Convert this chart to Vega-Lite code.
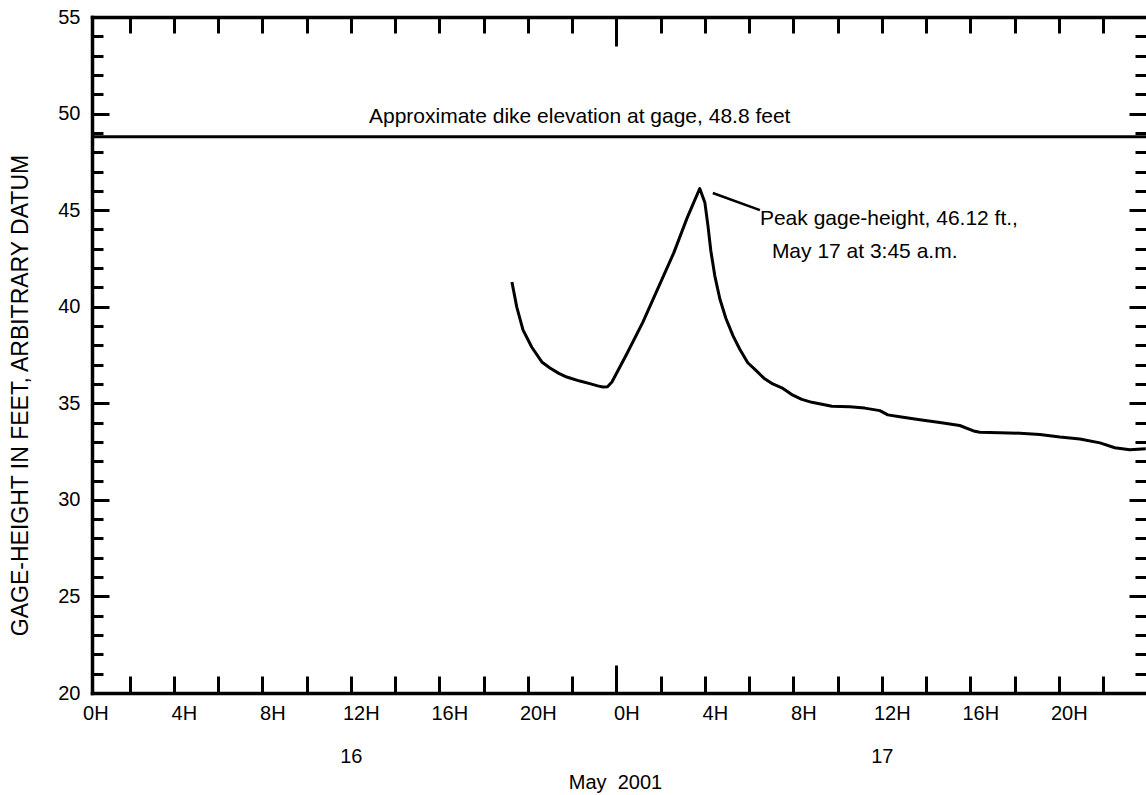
{
  "$schema": "https://vega.github.io/schema/vega-lite/v6.json",
  "width": 1054,
  "height": 676,
  "autosize": {"type": "none"},
  "padding": {"left": 92, "top": 17, "right": 0, "bottom": 102},
  "background": "white",
  "config": {
    "view": {"stroke": null},
    "font": "Liberation Sans",
    "axis": {
      "grid": false,
      "labelFont": "Liberation Sans",
      "titleFont": "Liberation Sans",
      "labelColor": "black",
      "titleColor": "black",
      "domainColor": "black",
      "tickColor": "black",
      "labelFontSize": 20,
      "titleFontSize": 20,
      "titleFontWeight": "normal",
      "labelFlush": false,
      "labelOverlap": false,
      "domainWidth": 3.5,
      "tickWidth": 3,
      "domainCap": "square"
    }
  },
  "datasets": {
    "gage": [
      {"h": 19.28, "v": 41.28}, {"h": 19.5, "v": 39.98}, {"h": 19.78, "v": 38.8}, {"h": 20.18, "v": 37.9},
      {"h": 20.63, "v": 37.14}, {"h": 21.0, "v": 36.83}, {"h": 21.4, "v": 36.55}, {"h": 21.76, "v": 36.36},
      {"h": 22.35, "v": 36.15}, {"h": 22.8, "v": 36.02}, {"h": 23.16, "v": 35.9}, {"h": 23.39, "v": 35.84},
      {"h": 23.6, "v": 35.86}, {"h": 23.8, "v": 36.1}, {"h": 24.47, "v": 37.55}, {"h": 25.2, "v": 39.2},
      {"h": 25.9, "v": 41.0}, {"h": 26.6, "v": 42.8}, {"h": 27.2, "v": 44.6}, {"h": 27.5, "v": 45.4},
      {"h": 27.77, "v": 46.12}, {"h": 28.0, "v": 45.4}, {"h": 28.14, "v": 44.2}, {"h": 28.27, "v": 42.9},
      {"h": 28.45, "v": 41.6}, {"h": 28.68, "v": 40.4}, {"h": 28.95, "v": 39.4}, {"h": 29.27, "v": 38.5},
      {"h": 29.58, "v": 37.8}, {"h": 29.94, "v": 37.1}, {"h": 30.31, "v": 36.7}, {"h": 30.67, "v": 36.3},
      {"h": 31.07, "v": 36.0}, {"h": 31.48, "v": 35.8}, {"h": 31.93, "v": 35.45}, {"h": 32.38, "v": 35.2},
      {"h": 32.84, "v": 35.05}, {"h": 33.29, "v": 34.95}, {"h": 33.74, "v": 34.85}, {"h": 34.55, "v": 34.82},
      {"h": 35.23, "v": 34.75}, {"h": 35.91, "v": 34.62}, {"h": 36.27, "v": 34.4}, {"h": 36.81, "v": 34.3},
      {"h": 37.72, "v": 34.15}, {"h": 38.62, "v": 34.0}, {"h": 39.52, "v": 33.85}, {"h": 40.2, "v": 33.55},
      {"h": 40.43, "v": 33.5}, {"h": 41.33, "v": 33.48}, {"h": 42.24, "v": 33.45}, {"h": 43.14, "v": 33.38},
      {"h": 44.05, "v": 33.25}, {"h": 44.95, "v": 33.15}, {"h": 45.86, "v": 32.95}, {"h": 46.53, "v": 32.7},
      {"h": 47.21, "v": 32.6}, {"h": 47.93, "v": 32.65}
    ],
    "dike": [{"v": 48.8}],
    "leader": [{"h": 28.36, "v": 45.89, "h2": 30.49, "v2": 45.0}],
    "notes": [
      {"h": 12.82, "v": 49.5, "t": "Approximate dike elevation at gage, 48.8 feet"},
      {"h": 30.49, "v": 44.23, "t": "Peak gage-height, 46.12 ft.,"},
      {"h": 31.03, "v": 42.52, "t": "May 17 at 3:45 a.m."}
    ]
  },
  "resolve": {"axis": {"x": "independent", "y": "independent"}},
  "layer": [
    {
      "data": {"name": "gage"},
      "mark": {"type": "line", "color": "black", "strokeWidth": 3, "strokeJoin": "round"},
      "encoding": {
        "x": {"field": "h", "type": "quantitative",
          "scale": {"domain": [0.3, 47.94], "nice": false, "zero": false},
          "axis": {"orient": "bottom", "values": [0.45, 4.45, 8.45, 12.45, 16.45, 20.45, 24.45, 28.45, 32.45, 36.45, 40.45, 44.45],
            "ticks": false, "domain": true, "labelExpr": "(round(datum.value) % 24) + 'H'",
            "labelPadding": 26, "labelBaseline": "alphabetic", "title": null}},
        "y": {"field": "v", "type": "quantitative",
          "scale": {"domain": [20, 55], "nice": false, "zero": false},
          "axis": {"orient": "left", "values": [20, 25, 30, 35, 40, 45, 50, 55], "ticks": false, "domain": true,
            "labelPadding": 12, "labelBaseline": "middle",
            "title": "GAGE-HEIGHT IN FEET, ARBITRARY DATUM", "titleX": -72, "titleY": 378, "titleFontSize": 23,
            "titleAngle": -90, "titleAlign": "center", "titleBaseline": "middle"}}
      }
    },
    {
      "data": {"name": "gage"},
      "mark": {"type": "point", "opacity": 0},
      "encoding": {
        "x": {"field": "h", "type": "quantitative", "scale": {"domain": [0.3, 47.94], "nice": false, "zero": false},
          "axis": {"orient": "bottom", "values": [2, 4, 6, 8, 10, 12, 14, 16, 18, 20, 22, 24, 26, 28, 30, 32, 34, 36, 38, 40, 42, 44, 46],
            "labels": false, "domain": false, "tickSize": -17, "title": null}},
        "y": {"field": "v", "type": "quantitative", "scale": {"domain": [20, 55], "nice": false, "zero": false},
          "axis": {"orient": "left", "values": [20, 25, 30, 35, 40, 45, 50, 55], "labels": false, "domain": false, "tickSize": -17, "title": null}}
      }
    },
    {
      "data": {"name": "gage"},
      "mark": {"type": "point", "opacity": 0},
      "encoding": {
        "x": {"field": "h", "type": "quantitative", "scale": {"domain": [0.3, 47.94], "nice": false, "zero": false},
          "axis": {"orient": "top", "values": [2, 4, 6, 8, 10, 12, 14, 16, 18, 20, 22, 24, 26, 28, 30, 32, 34, 36, 38, 40, 42, 44, 46],
            "labels": false, "domain": true, "tickSize": -16, "title": null}},
        "y": {"field": "v", "type": "quantitative", "scale": {"domain": [20, 55], "nice": false, "zero": false},
          "axis": {"orient": "left", "values": [21, 22, 23, 24, 26, 27, 28, 29, 31, 32, 33, 34, 36, 37, 38, 39, 41, 42, 43, 44, 46, 47, 48, 49, 51, 52, 53, 54],
            "labels": false, "domain": false, "tickSize": -11, "title": null}}
      }
    },
    {
      "data": {"name": "gage"},
      "mark": {"type": "point", "opacity": 0},
      "encoding": {
        "x": {"field": "h", "type": "quantitative", "scale": {"domain": [0.3, 47.94], "nice": false, "zero": false},
          "axis": {"orient": "bottom", "values": [24], "labels": false, "domain": false, "tickSize": -28, "title": null}},
        "y": {"field": "v", "type": "quantitative", "scale": {"domain": [20, 55], "nice": false, "zero": false},
          "axis": {"orient": "right", "values": [20, 25, 30, 35, 40, 45, 50, 55], "labels": false, "domain": false, "tickSize": -17, "title": null}}
      }
    },
    {
      "data": {"name": "gage"},
      "mark": {"type": "point", "opacity": 0},
      "encoding": {
        "x": {"field": "h", "type": "quantitative", "scale": {"domain": [0.3, 47.94], "nice": false, "zero": false},
          "axis": {"orient": "top", "values": [24], "labels": false, "domain": false, "tickSize": -29, "title": null}},
        "y": {"field": "v", "type": "quantitative", "scale": {"domain": [20, 55], "nice": false, "zero": false},
          "axis": {"orient": "right", "values": [21, 22, 23, 24, 26, 27, 28, 29, 31, 32, 33, 34, 36, 37, 38, 39, 41, 42, 43, 44, 46, 47, 48, 49, 51, 52, 53, 54],
            "labels": false, "domain": false, "tickSize": -11, "title": null}}
      }
    },
    {
      "data": {"name": "gage"},
      "mark": {"type": "point", "opacity": 0},
      "encoding": {
        "x": {"field": "h", "type": "quantitative", "scale": {"domain": [0.3, 47.94], "nice": false, "zero": false},
          "axis": {"orient": "bottom", "values": [12, 36], "ticks": false, "domain": false,
            "labelExpr": "datum.value == 12 ? '16' : '17'", "labelPadding": 69, "labelBaseline": "alphabetic",
            "title": "May\u00a0 2001", "titleX": 523, "titleY": 95, "titleAlign": "center", "titleBaseline": "alphabetic", "titleAnchor": null}},
        "y": {"field": "v", "type": "quantitative", "scale": {"domain": [20, 55], "nice": false, "zero": false}, "axis": null}
      }
    },
    {
      "data": {"name": "dike"},
      "mark": {"type": "rule", "color": "black", "strokeWidth": 3},
      "encoding": {"y": {"field": "v", "type": "quantitative", "axis": null}}
    },
    {
      "data": {"name": "leader"},
      "mark": {"type": "rule", "color": "black", "strokeWidth": 2.5},
      "encoding": {
        "x": {"field": "h", "type": "quantitative", "axis": null},
        "x2": {"field": "h2"},
        "y": {"field": "v", "type": "quantitative", "axis": null},
        "y2": {"field": "v2"}
      }
    },
    {
      "data": {"name": "notes"},
      "mark": {"type": "text", "align": "left", "baseline": "alphabetic", "font": "Liberation Sans", "fontSize": 21, "color": "black"},
      "encoding": {
        "x": {"field": "h", "type": "quantitative", "axis": null},
        "y": {"field": "v", "type": "quantitative", "axis": null},
        "text": {"field": "t"}
      }
    }
  ]
}
